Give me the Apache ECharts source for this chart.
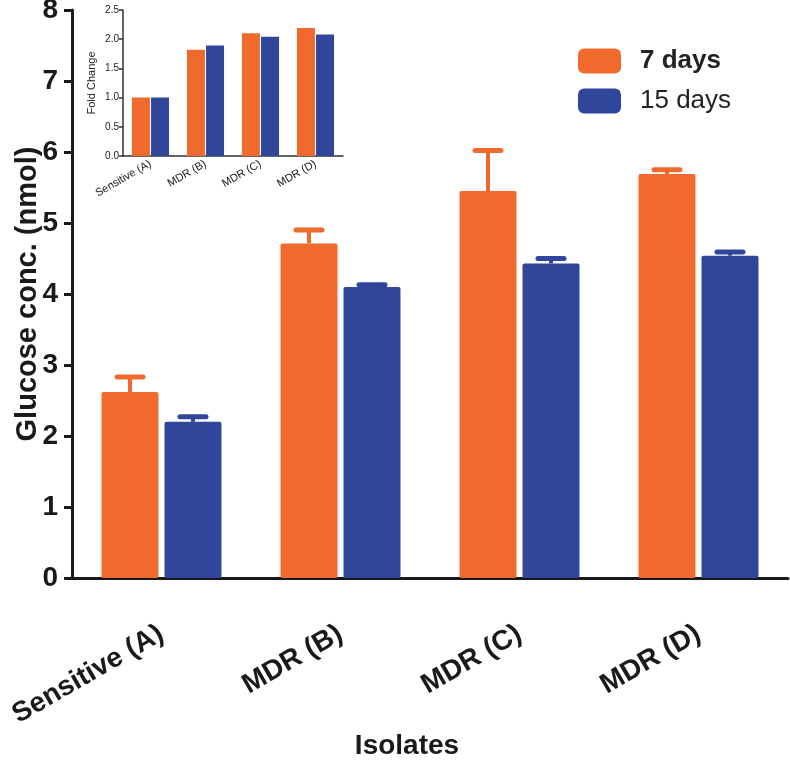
<!DOCTYPE html>
<html>
<head>
<meta charset="utf-8">
<script src="https://cdn.jsdelivr.net/npm/echarts@6/dist/echarts.min.js"></script>
<style>html,body{margin:0;padding:0;background:#fff}#c{width:790px;height:769px}</style>
</head>
<body>
<div id="c"></div>
<script>
// ---- data ----
const categories = ['Sensitive (A)', 'MDR (B)', 'MDR (C)', 'MDR (D)'];
const glucose7 = [2.62, 4.71, 5.45, 5.69];
const glucose7Err = [2.83, 4.90, 6.02, 5.75];
const glucose15 = [2.20, 4.10, 4.43, 4.54];
const glucose15Err = [2.27, 4.13, 4.50, 4.59];
const fold7 = [1.0, 1.82, 2.10, 2.19];
const fold15 = [1.0, 1.89, 2.04, 2.08];
const seriesNames = ['7 days', '15 days'];

const ORANGE = '#F0692D';
const BLUE = '#2F469B';
const FONT = '"Liberation Sans", Arial, sans-serif';

const chart = echarts.init(document.getElementById('c'), null, {renderer: 'canvas'});

function errData(vals, errs, off) {
  return vals.map((v, i) => [i, v, errs[i], off]);
}
function renderErr(params, api) {
  const i = api.value(0);
  const p0 = api.coord([i, api.value(1)]);
  const p1 = api.coord([i, api.value(2)]);
  const x = p0[0] + api.value(3);
  const col = api.visual('color');
  return {
    type: 'group',
    children: [
      {type: 'line', shape: {x1: x, y1: p0[1], x2: x, y2: p1[1]},
       style: {stroke: col, lineWidth: 4}},
      {type: 'line', shape: {x1: x - 13, y1: p1[1], x2: x + 13, y2: p1[1]},
       style: {stroke: col, lineWidth: 5, lineCap: 'round'}}
    ]
  };
}

const option = {
  backgroundColor: '#fff',
  animation: false,
  legend: {
    orient: 'vertical',
    left: 573, top: 43,
    itemWidth: 43, itemHeight: 25, itemGap: 14,
    icon: 'roundRect',
    textStyle: {fontFamily: FONT, fontSize: 26, color: '#222', padding: [0, 0, 0, 14]},
    data: [
      {name: seriesNames[0], textStyle: {fontWeight: 'bold'}},
      {name: seriesNames[1], textStyle: {fontWeight: 'normal'}}
    ]
  },
  grid: [
    {left: 72, right: 2, top: 10, bottom: 191, containLabel: false, outerBoundsMode: 'none'},
    {left: 123, width: 220, top: 10, height: 146, containLabel: false, outerBoundsMode: 'none'}
  ],
  xAxis: [
    {
      type: 'category', gridIndex: 0, data: categories,
      axisLine: {lineStyle: {color: '#1a1a1a', width: 3}},
      axisTick: {alignWithLabel: true, length: 10, lineStyle: {width: 3, color: '#1a1a1a'}},
      axisLabel: {rotate: 30, margin: 54, fontFamily: FONT, fontWeight: 'bold', fontSize: 28, color: '#1a1a1a'},
      name: 'Isolates', nameLocation: 'middle', nameGap: 154, nameMoveOverlap: false,
      nameTextStyle: {fontFamily: FONT, fontWeight: 'bold', fontSize: 28, color: '#1a1a1a', padding: [0, 46, 0, 0]}
    },
    {
      type: 'category', gridIndex: 1, data: categories,
      axisLine: {lineStyle: {color: '#333', width: 1.5}},
      axisTick: {alignWithLabel: true, length: 4, lineStyle: {width: 1.5, color: '#333'}},
      axisLabel: {rotate: 30, margin: 7, fontFamily: FONT, fontSize: 11, color: '#222'}
    }
  ],
  yAxis: [
    {
      type: 'value', gridIndex: 0, min: 0, max: 8, interval: 1,
      splitLine: {show: false},
      axisLine: {show: true, lineStyle: {color: '#1a1a1a', width: 3}},
      axisTick: {show: true, length: 8, lineStyle: {width: 3, color: '#1a1a1a'}},
      axisLabel: {margin: 14, fontFamily: FONT, fontWeight: 'bold', fontSize: 28, color: '#1a1a1a'},
      name: 'Glucose conc. (nmol)', nameLocation: 'middle', nameGap: 30, nameRotate: 90,
      nameMoveOverlap: false,
      nameTextStyle: {fontFamily: FONT, fontWeight: 'bold', fontSize: 29, color: '#1a1a1a'}
    },
    {
      type: 'value', gridIndex: 1, min: 0, max: 2.5, interval: 0.5,
      splitLine: {show: false},
      axisLine: {show: true, lineStyle: {color: '#333', width: 1.5}},
      axisTick: {show: true, length: 4, lineStyle: {width: 1.5, color: '#333'}},
      axisLabel: {margin: 4, fontFamily: FONT, fontSize: 10, color: '#222', formatter: v => v.toFixed(1)},
      name: 'Fold Change', nameLocation: 'middle', nameGap: 26, nameRotate: 90,
      nameTextStyle: {fontFamily: FONT, fontSize: 11, color: '#222'}
    }
  ],
  series: [
    {name: seriesNames[0], type: 'bar', xAxisIndex: 0, yAxisIndex: 0, data: glucose7,
     barWidth: 57, barGap: '10.5%', itemStyle: {color: ORANGE, borderRadius: 2}},
    {name: seriesNames[1], type: 'bar', xAxisIndex: 0, yAxisIndex: 0, data: glucose15,
     barWidth: 57, barGap: '10.5%', itemStyle: {color: BLUE, borderRadius: 2}},
    {name: 'err7', type: 'custom', xAxisIndex: 0, yAxisIndex: 0, renderItem: renderErr,
     itemStyle: {color: ORANGE}, data: errData(glucose7, glucose7Err, -31.5), z: 1},
    {name: 'err15', type: 'custom', xAxisIndex: 0, yAxisIndex: 0, renderItem: renderErr,
     itemStyle: {color: BLUE}, data: errData(glucose15, glucose15Err, 31.5), z: 1},
    {name: seriesNames[0], type: 'bar', xAxisIndex: 1, yAxisIndex: 1, data: fold7,
     barWidth: 18, barGap: '6%', itemStyle: {color: ORANGE}},
    {name: seriesNames[1], type: 'bar', xAxisIndex: 1, yAxisIndex: 1, data: fold15,
     barWidth: 18, barGap: '6%', itemStyle: {color: BLUE}}
  ]
};
chart.setOption(option);
</script>
</body>
</html>
